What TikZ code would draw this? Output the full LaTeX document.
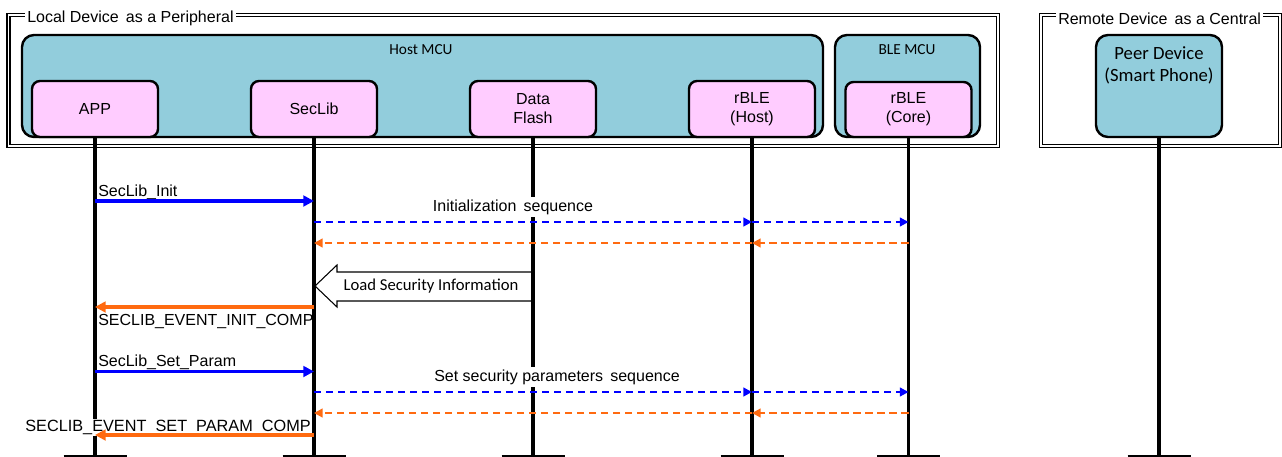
\documentclass[tikz,border=0pt]{standalone}
\usepackage{fontspec}
\setmainfont{Liberation Sans}
\newfontfamily\calfont{Carlito}
\usetikzlibrary{arrows.meta,calc}
\definecolor{tealfill}{HTML}{92CDDC}
\definecolor{pinkfill}{HTML}{FFCCFF}
\definecolor{bluearr}{HTML}{0000FF}
\definecolor{orangearr}{HTML}{FF6A10}
\begin{document}
\begin{tikzpicture}[x=0.75pt,y=-0.75pt,
  frame/.style={draw, double, line width=1.1pt, double distance=1.2pt, inner sep=0pt},
  frametitle/.style={fill=white, inner xsep=1.5pt, inner ysep=2pt, font=\fontsize{12}{14}\selectfont},
  tealbox/.style={draw, line width=1.8pt, fill=tealfill, rounded corners=9pt, inner sep=0pt, minimum height=76.5pt},
  boxtitle/.style={anchor=base, inner sep=0pt, font=\calfont\fontsize{11.5}{13}\selectfont},
  pinkbox/.style={draw, line width=1.8pt, fill=pinkfill, rounded corners=6pt, minimum width=94.5pt, minimum height=42pt, inner sep=0pt, align=center, font=\fontsize{12}{14.25}\selectfont},
  lifeline/.style={draw, line width=2.6pt},
  bar/.style={draw, line width=1.3pt},
  msg/.style={draw=bluearr, line width=2.5pt, -{Triangle[length=8pt,width=8pt]}},
  reply/.style={draw=orangearr, line width=2.5pt, -{Triangle[length=8pt,width=8pt]}},
  dmsg/.style={draw=bluearr, line width=1.8pt, dash pattern=on 5.5pt off 3.5pt, -{Triangle[length=6.5pt,width=6.5pt]}},
  dreply/.style={draw=orangearr, line width=1.8pt, dash pattern=on 5.5pt off 3.5pt, -{Triangle[length=6.5pt,width=6.5pt]}},
  lbl/.style={inner sep=0pt, font=\fontsize{12}{14}\selectfont},
  seqlbl/.style={fill=white, inner sep=2pt, anchor=base, font=\fontsize{12}{14}\selectfont},
  blockarrow/.style={draw, line width=0.8pt, fill=white, line join=miter}
]
\useasboundingbox (0,0) rectangle (1282,457);

% frames
\node[frame, minimum width=742.1pt, minimum height=98.25pt] (local) at (503.25,80.5) {};
\node[frame, minimum width=179.25pt, minimum height=98.25pt] (remote) at (1160.5,80.5) {};
\node[frametitle, anchor=west] (localt) at (25,18.5) {Local Device\, as a Peripheral};
\node[frametitle, anchor=west] (remotet) at (1056,18.5) {Remote Device\, as a Central};

% MCU boxes
\node[tealbox, minimum width=600.75pt] (hostmcu) at (422.5,86) {};
\node[boxtitle] (hostt) at (421,54) {Host MCU};
\node[tealbox, minimum width=108.75pt] (blemcu) at (907.5,86) {};
\node[boxtitle] (blet) at (907,54) {BLE MCU};
\node[tealbox, minimum width=94.5pt] (peer) at (1159,86) {};
\node[anchor=north, inner sep=0pt, align=center, font=\calfont\fontsize{14}{16.5}\selectfont] (peert) at (1159,46) {Peer Device\\(Smart Phone)};

% pink boxes
\node[pinkbox] (app) at (95,109) {APP};
\node[pinkbox] (seclib) at (314,109) {SecLib};
\node[pinkbox] (flash) at (533,109) {Data\\Flash};
\node[pinkbox] (rbleh) at (752,109) {rBLE\\(Host)};
\node[pinkbox, minimum height=41.25pt] (rblec) at (908.5,109.5) {rBLE\\(Core)};

\coordinate (bot) at (0,456);

% block arrow
\draw[blockarrow] (flash.south |- 0,272) -- ($(seclib.south |- 0,272)+(23,0)$) -- ++(0,-7)
  -- ($(seclib.south |- 0,286)+(1,0)$) -- ($(seclib.south |- 0,307)+(23,0)$) -- ++(0,-6)
  -- (flash.south |- 0,301);
\node[inner sep=0pt, font=\calfont\fontsize{12.5}{14}\selectfont] (lsi) at (431,286) {Load Security Information};

% lifelines
\foreach \n in {app,seclib,flash,rbleh,rblec,peer}{
  \draw[lifeline] (\n.south) -- (\n.south |- bot);
  \draw[bar] (\n.south |- bot) ++(-31.5,0) -- ++(63,0);
}

% labels (white backgrounds break the lifelines)
\node[lbl, anchor=base west] (l1) at (98,196.5) {SecLib\_Init};
\node[seqlbl] (l2) at (513,211) {Initialization\, sequence};
\node[lbl, anchor=base west] (l3) at (98,325) {SECLIB\_EVENT\_INIT\_COMP};
\node[lbl, anchor=base west] (l4) at (98,366.5) {SecLib\_Set\_Param};
\node[seqlbl] (l5) at (557,381) {Set security parameters\, sequence};
\node[lbl, anchor=base east, fill=white, inner ysep=1pt, inner xsep=0pt, font=\fontsize{12.2}{14}\selectfont] (l6) at (311,431.5) {SECLIB\_EVENT\_SET\_PARAM\_COMP};

% messages
\draw[msg] (app.south |- 0,201) -- (seclib.south |- 0,201);
\draw[dmsg] (seclib.south |- 0,222) -- (rbleh.south |- 0,222);
\draw[dmsg] (rbleh.south |- 0,222) -- (rblec.south |- 0,222);
\draw[dreply] (rblec.south |- 0,243) -- (rbleh.south |- 0,243);
\draw[dreply] (rbleh.south |- 0,243) -- (seclib.south |- 0,243);
\draw[reply] (seclib.south |- 0,307) -- (app.south |- 0,307);

\draw[msg] (app.south |- 0,371.5) -- (seclib.south |- 0,371.5);
\draw[dmsg] (seclib.south |- 0,392) -- (rbleh.south |- 0,392);
\draw[dmsg] (rbleh.south |- 0,392) -- (rblec.south |- 0,392);
\draw[dreply] (rblec.south |- 0,413) -- (rbleh.south |- 0,413);
\draw[dreply] (rbleh.south |- 0,413) -- (seclib.south |- 0,413);
\draw[reply] (seclib.south |- 0,435) -- (app.south |- 0,435);
\end{tikzpicture}
\end{document}
